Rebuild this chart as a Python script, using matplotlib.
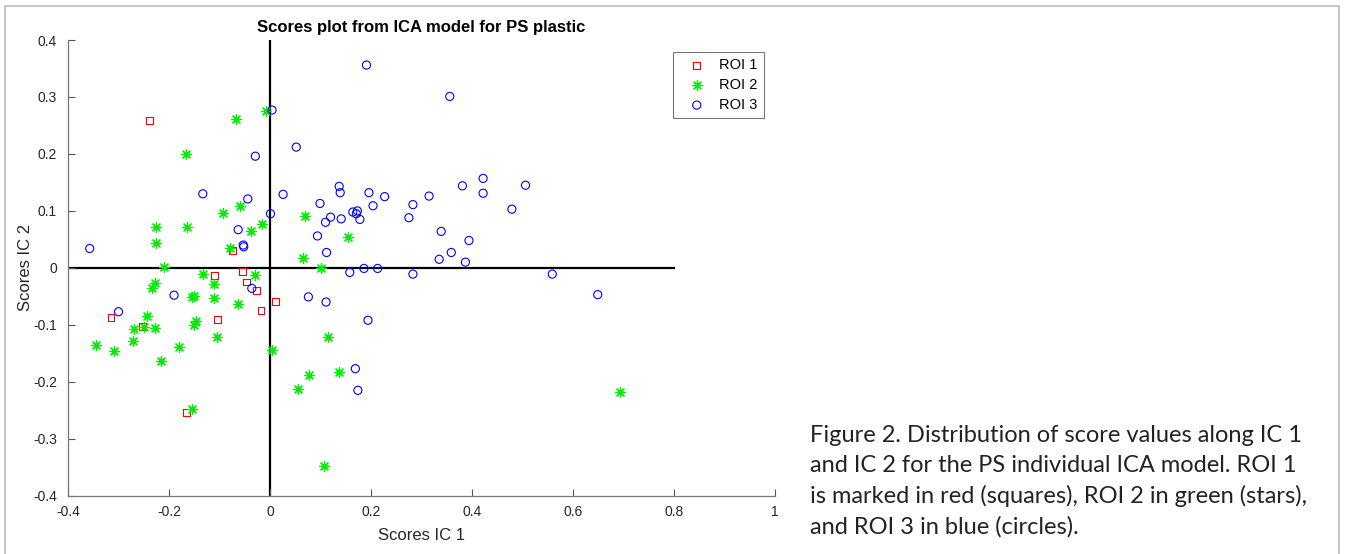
import matplotlib
matplotlib.use("Agg")
import matplotlib.pyplot as plt
from matplotlib.patches import Rectangle

# ---- data ----
roi1_x = [-0.238, -0.075, -0.055, -0.110, -0.046, -0.027, 0.011, -0.018, -0.315, -0.104, -0.252, -0.166]
roi1_y = [0.259, 0.030, -0.006, -0.014, -0.025, -0.040, -0.059, -0.075, -0.087, -0.090, -0.103, -0.254]

roi2_x = [-0.067, -0.008, -0.167, -0.060, -0.093, -0.016, -0.225, -0.165, -0.038, -0.226,
          -0.079, -0.209, -0.133, -0.030, -0.111, -0.227, -0.233, -0.154, -0.150, -0.111,
          -0.063, -0.243, -0.147, -0.151, -0.250, -0.269, -0.228, -0.105, -0.271, -0.344,
          -0.309, -0.181, 0.004, -0.215, -0.155, 0.069, 0.155, 0.066, 0.101, 0.114,
          0.077, 0.137, 0.056, 0.107, 0.693]
roi2_y = [0.262, 0.275, 0.200, 0.109, 0.096, 0.077, 0.072, 0.072, 0.064, 0.043,
          0.035, 0.001, -0.010, -0.012, -0.028, -0.026, -0.035, -0.051, -0.050, -0.053,
          -0.063, -0.084, -0.094, -0.100, -0.103, -0.108, -0.105, -0.121, -0.129, -0.135,
          -0.146, -0.139, -0.144, -0.164, -0.248, 0.091, 0.054, 0.018, 0.000, -0.122,
          -0.188, -0.182, -0.212, -0.348, -0.218]

roi3_x = [0.004, -0.029, -0.133, -0.044, 0.026, 0.001, -0.063, -0.357, -0.053, -0.052,
          -0.036, -0.190, -0.300, 0.191, 0.356, 0.052, 0.137, 0.139, 0.196, 0.227,
          0.315, 0.381, 0.422, 0.422, 0.479, 0.099, 0.283, 0.204, 0.120, 0.110,
          0.141, 0.164, 0.173, 0.171, 0.178, 0.275, 0.094, 0.339, 0.394, 0.112,
          0.359, 0.335, 0.387, 0.158, 0.186, 0.213, 0.283, 0.076, 0.111, 0.194,
          0.169, 0.174, 0.506, 0.559, 0.649]
roi3_y = [0.277, 0.196, 0.130, 0.121, 0.129, 0.095, 0.067, 0.034, 0.040, 0.037,
          -0.036, -0.048, -0.077, 0.356, 0.301, 0.212, 0.143, 0.132, 0.132, 0.125,
          0.126, 0.144, 0.157, 0.131, 0.103, 0.113, 0.111, 0.109, 0.089, 0.080,
          0.086, 0.098, 0.100, 0.095, 0.085, 0.088, 0.056, 0.064, 0.048, 0.027,
          0.027, 0.015, 0.010, -0.008, -0.001, -0.001, -0.011, -0.051, -0.060, -0.092,
          -0.177, -0.215, 0.145, -0.011, -0.047]

xticks = [-0.4, -0.2, 0, 0.2, 0.4, 0.6, 0.8, 1]
yticks = [-0.4, -0.3, -0.2, -0.1, 0, 0.1, 0.2, 0.3, 0.4]
labels = ["ROI 1", "ROI 2", "ROI 3"]
title = "Scores plot from ICA model for PS plastic"
caption = ("Figure 2. Distribution of score values along IC 1\n"
           "and IC 2 for the PS individual ICA model. ROI 1\n"
           "is marked in red (squares), ROI 2 in green (stars),\n"
           "and ROI 3 in blue (circles).")

W, H = 1346, 554
fig = plt.figure(figsize=(W / 100, H / 100), dpi=100)
fig.patch.set_facecolor("white")

# outer light frame
frame = Rectangle((5 / W, -0.01), (1339 - 5) / W, (H - 6) / H + 0.01,
                  transform=fig.transFigure, fill=False, edgecolor="#c8c8c8", lw=1.5)
fig.patches.append(frame)

ax = fig.add_axes([68 / W, (H - 495.7) / H, (775 - 68) / W, (495.7 - 40) / H])
font = ["Liberation Sans", "DejaVu Sans"]

ax.axhline(0, xmin=0, xmax=(0.8 + 0.4) / 1.4, color="black", lw=1.6, zorder=1)
ax.axvline(0, color="black", lw=1.6, zorder=1)

asterisk = (8, 2, 0)
ax.scatter(roi1_x, roi1_y, marker="s", s=24, facecolors="none", edgecolors="#ff0000",
           linewidths=0.8, label=labels[0], zorder=3)
ax.scatter(roi2_x, roi2_y, marker=asterisk, s=50, color="#00ee00", linewidths=0.9,
           label=labels[1], zorder=3)
ax.scatter(roi3_x, roi3_y, marker="o", s=34, facecolors="none", edgecolors="#0000ff",
           linewidths=0.8, label=labels[2], zorder=3)

ax.set_xlim(-0.4, 1.0)
ax.set_ylim(-0.4, 0.4)
ax.set_xticks(xticks)
ax.set_yticks(yticks)
ax.set_xticklabels([f"{t:g}" for t in xticks], fontfamily=font, fontsize=10, color="#262626")
ax.set_yticklabels([f"{t:g}" for t in yticks], fontfamily=font, fontsize=10, color="#262626")
ax.tick_params(axis="both", direction="in", length=5, width=0.8, colors="#555555",
               labelcolor="#262626")
ax.tick_params(axis="x", pad=7)
ax.tick_params(axis="y", pad=8)
for side in ["top", "right"]:
    ax.spines[side].set_visible(False)
for side in ["left", "bottom"]:
    ax.spines[side].set_color("#777777")
    ax.spines[side].set_linewidth(0.9)

ax.set_title(title, fontfamily=font, fontsize=12, fontweight="bold", pad=6)
ax.set_xlabel("Scores IC 1", fontfamily=font, fontsize=12, color="#262626", labelpad=6)
ax.set_ylabel("Scores IC 2", fontfamily=font, fontsize=12, color="#262626", labelpad=0)

leg = ax.legend(loc="upper left", bbox_to_anchor=((672.7 - 68) / 707, (495.7 - 51.7) / 455.7),
                prop={"family": font, "size": 10.5}, frameon=True, fancybox=False,
                edgecolor="#555555", borderpad=0.45, labelspacing=0.4, handletextpad=0.3,
                borderaxespad=0, markerfirst=True, handlelength=2.4, scatterpoints=1)
leg.get_frame().set_linewidth(0.8)

fig.text(810 / W, 1 - 425 / H, caption, ha="left", va="top",
         fontfamily=["Lato", "DejaVu Sans"], fontsize=17, color="#222222", linespacing=1.51)

fig.savefig("out.png", dpi=100, facecolor="white")
